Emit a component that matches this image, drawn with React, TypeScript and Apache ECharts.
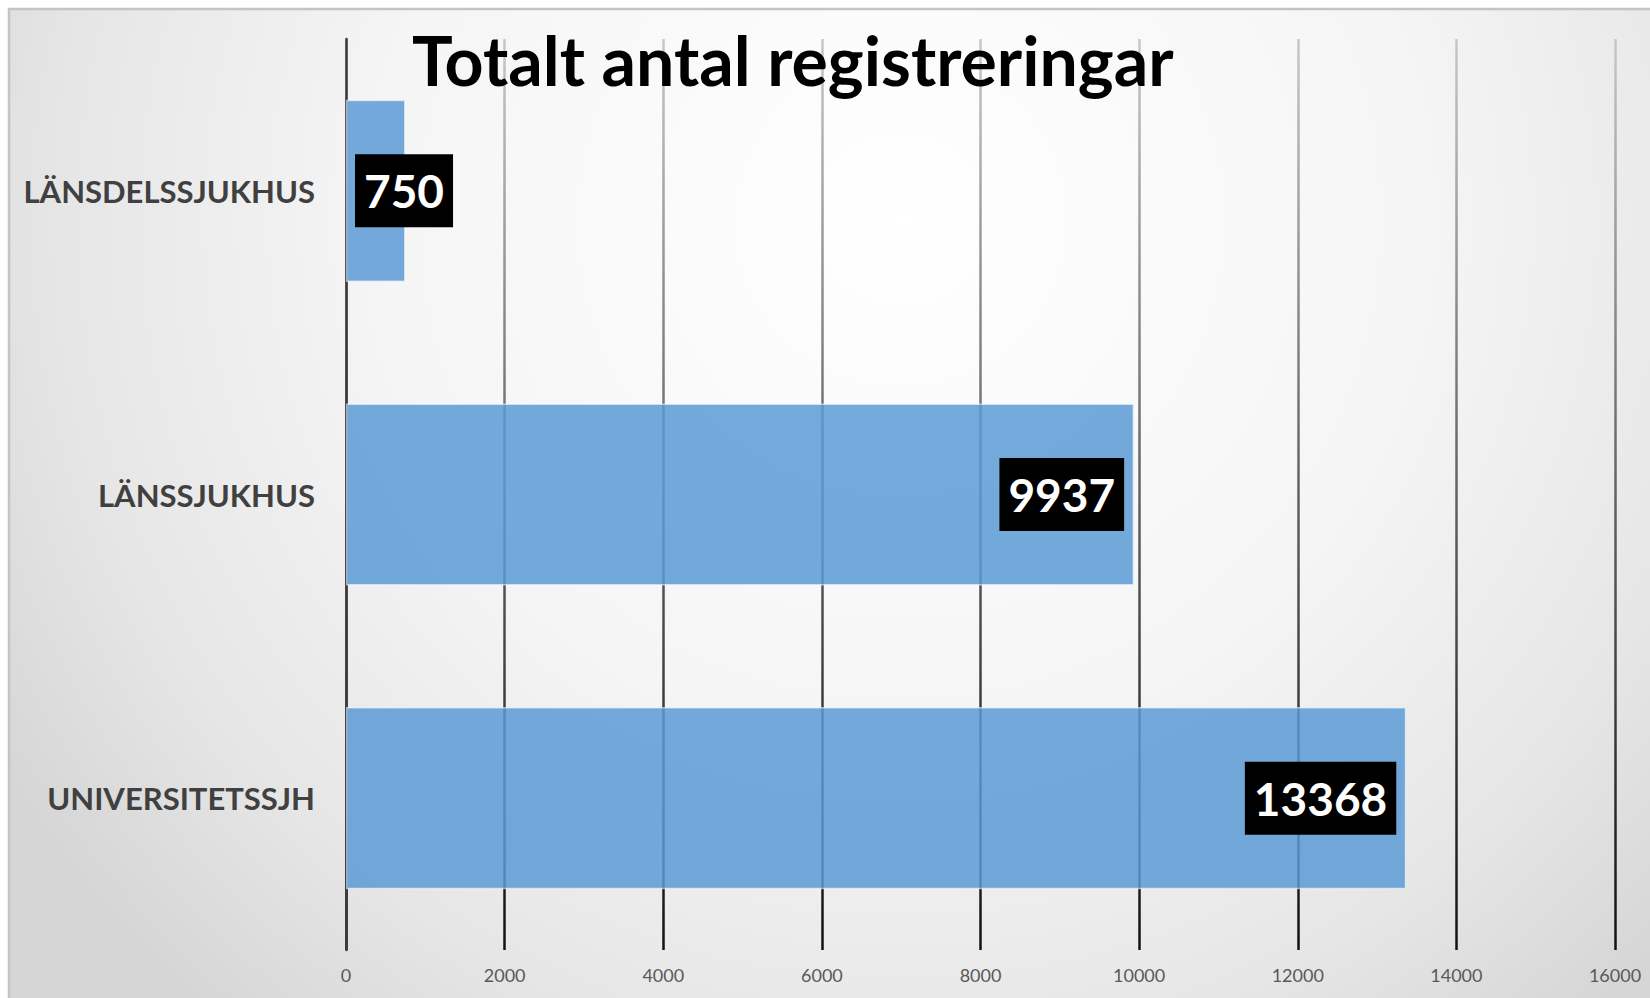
import React, { useEffect, useRef } from "react";
import * as echarts from "echarts";

const categories = ["LÄNSDELSSJUKHUS", "LÄNSSJUKHUS", "UNIVERSITETSSJH"];
const values = [750, 9937, 13368];
const xTicks = { min: 0, max: 16000, interval: 2000 };
const titleText = "Totalt antal registreringar";

export default function App() {
  const ref = useRef<HTMLDivElement>(null);
  useEffect(() => {
    document.body.style.margin = "0";
    const chart = echarts.init(ref.current!, null, { renderer: "svg" });
    const font = "Lato, 'Open Sans', sans-serif";
    const seriesData = values.map((v, i) =>
      i === 0
        ? { value: v, label: { position: "insideLeft", distance: 9 } }
        : { value: v }
    );
    chart.setOption({
      animation: false,
      graphic: [
        {
          type: "rect",
          z: -10,
          silent: true,
          shape: { x: 9, y: 9, width: 1700, height: 1100 },
          style: {
            fill: new echarts.graphic.RadialGradient(900, 220, 1050, [
              { offset: 0, color: "#ffffff" },
              { offset: 0.5, color: "#f5f5f5" },
              { offset: 0.8, color: "#e6e6e6" },
              { offset: 1, color: "#d6d6d6" },
            ], true),
            stroke: "#c4c4c4",
            lineWidth: 2.5,
          },
        },
      ],
      title: {
        text: titleText,
        left: 407,
        top: 20,
        textStyle: {
          fontFamily: font,
          fontWeight: "bold",
          fontSize: 68,
          color: "#000",
        },
      },
      grid: { left: 346, right: 35, top: 39, bottom: 48, containLabel: false },
      xAxis: {
        type: "value",
        min: xTicks.min,
        max: xTicks.max,
        interval: xTicks.interval,
        axisLine: { show: false },
        axisTick: { show: false },
        axisLabel: {
          color: "#595959",
          fontFamily: font,
          fontSize: 18,
          margin: 16,
          formatter: (v: number) => String(v),
        },
        splitLine: {
          show: true,
          lineStyle: {
            width: 2.5,
            color: new echarts.graphic.LinearGradient(0, 39, 0, 950, [
              { offset: 0, color: "#c8c8c8" },
              { offset: 0.45, color: "#6a6a6a" },
              { offset: 1, color: "#111111" },
            ], true),
          },
        },
      },
      yAxis: {
        type: "category",
        data: categories,
        inverse: true,
        axisLine: { show: true, lineStyle: { color: "#3a3a3a", width: 2.5 } },
        axisTick: { show: false },
        axisLabel: {
          color: "#404040",
          fontFamily: font,
          fontWeight: "bold",
          fontSize: 31,
          margin: 31,
        },
        splitLine: { show: false },
      },
      series: [
        {
          type: "bar",
          data: seriesData,
          barCategoryGap: "40%",
          itemStyle: {
            color: "rgba(91,155,213,0.85)",
            borderColor: "rgba(255,255,255,0.55)",
            borderWidth: 1.5,
          },
          label: {
            show: true,
            position: "insideRight",
            distance: 10,
            color: "#fff",
            backgroundColor: "#000",
            fontFamily: font,
            fontWeight: "bold",
            fontSize: 46,
            lineHeight: 53,
            padding: [10, 9, 10, 9],
          },
        },
      ],
    });
    return () => chart.dispose();
  }, []);
  return <div ref={ref} style={{ width: 1650, height: 998 }} />;
}
